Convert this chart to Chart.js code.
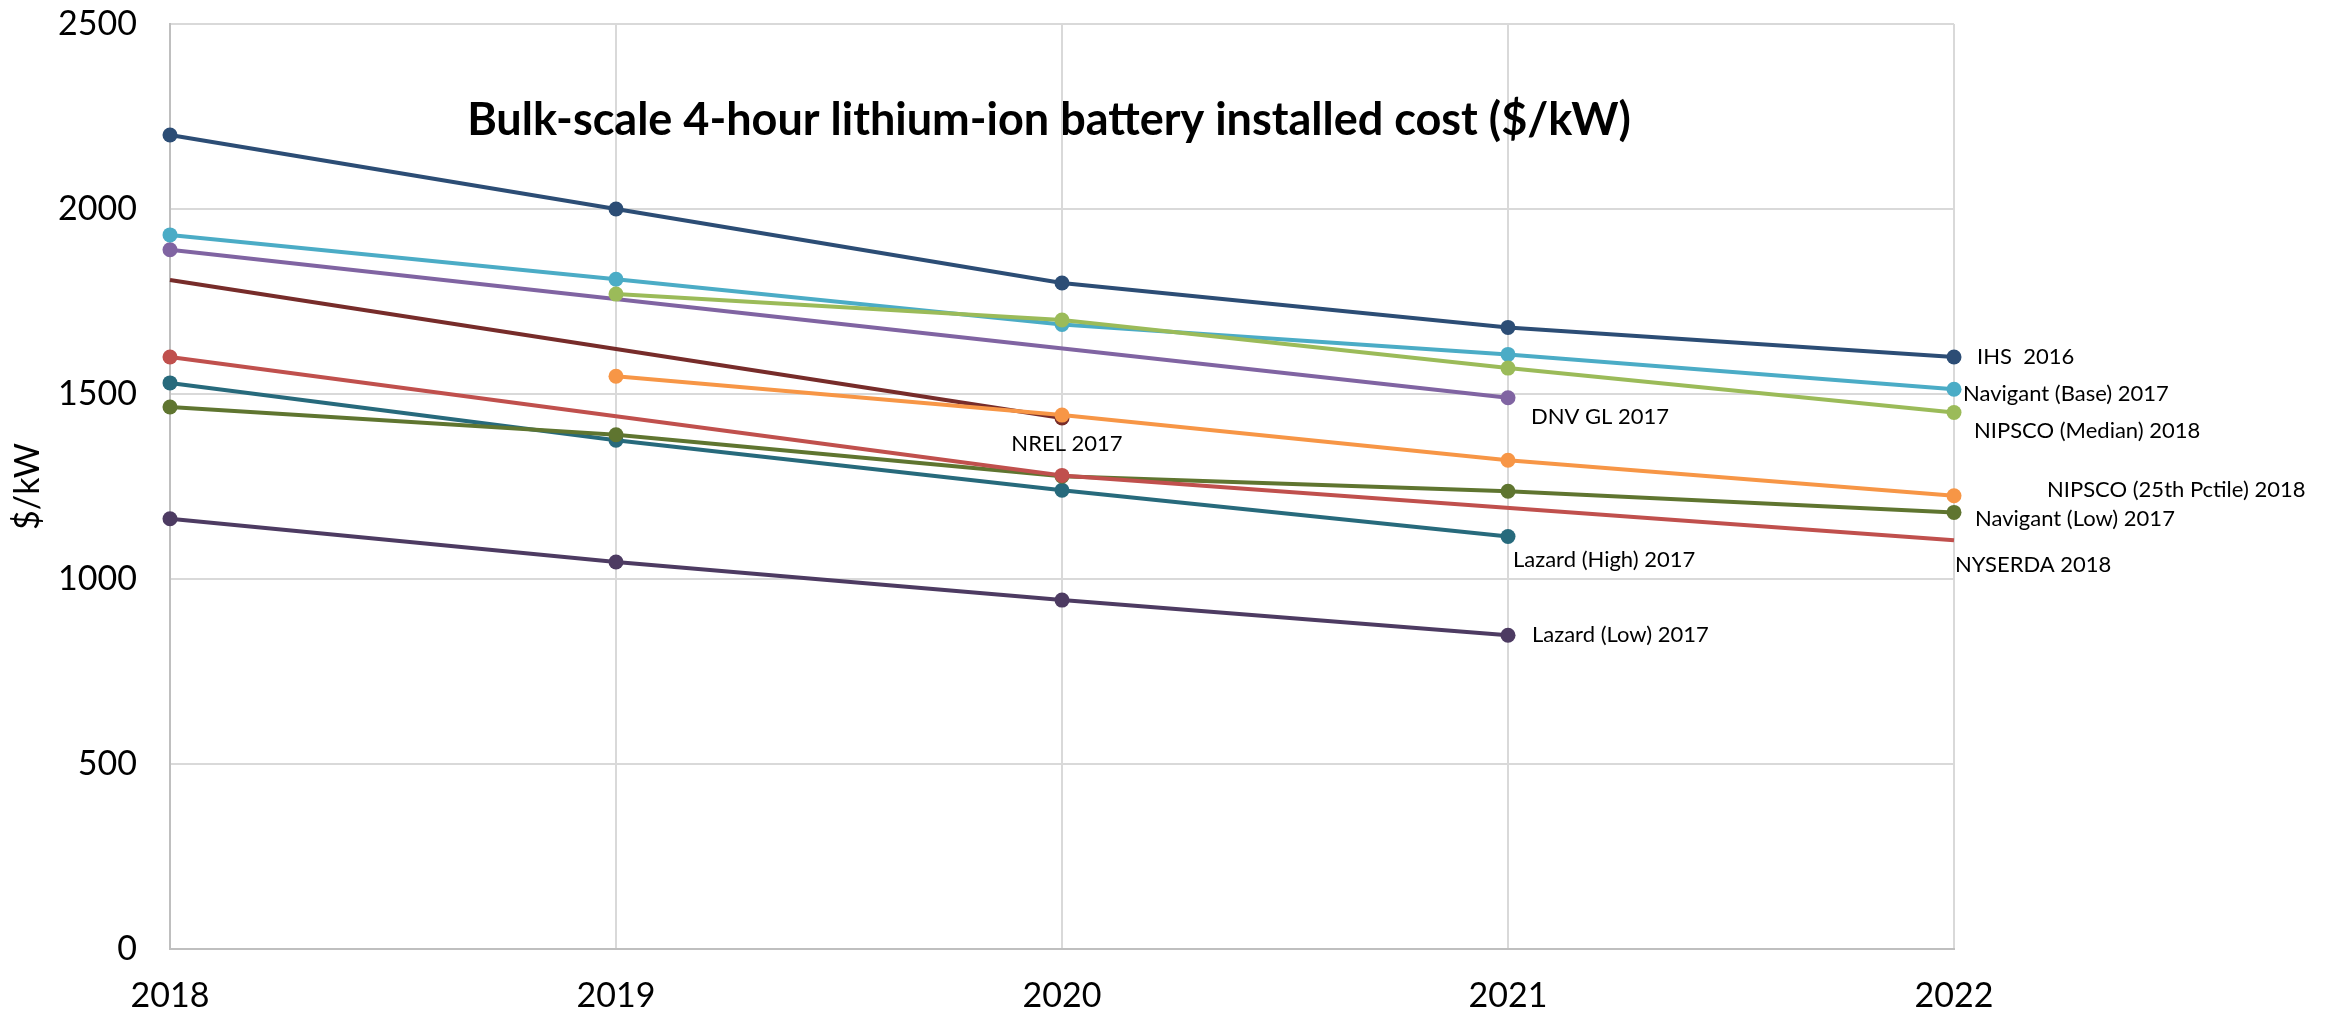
<!DOCTYPE html>
<html>
<head>
<meta charset="utf-8">
<title>Bulk-scale 4-hour lithium-ion battery installed cost</title>
<script src="https://cdn.jsdelivr.net/npm/chart.js@4.4.1/dist/chart.umd.min.js"></script>
<style>
  html, body { margin: 0; padding: 0; background: #fff; }
  #wrap { width: 2329px; height: 1014px; position: relative; }
</style>
</head>
<body>
<div id="wrap"><canvas id="chart"></canvas></div>
<script>
/* Bulk-scale 4-hour Li-ion battery installed cost, $/kW, 2018-2022 */

const YEARS = ["2018", "2019", "2020", "2021", "2022"];
const Y_TICKS = [0, 500, 1000, 1500, 2000, 2500];

// null = no point in that year (line spans across)
const IHS_2016        = [2200, 2000, 1800, 1680, 1600];
const NAV_BASE_2017   = [1930, 1810, 1688, 1607, 1513];
const NIPSCO_MED_2018 = [null, 1770, 1700, 1570, 1450];
const DNV_GL_2017     = [1890, null, null, 1490, null];
const NREL_2017       = [1808, null, 1435, null, null];
const NIPSCO_25_2018  = [null, 1548, 1443, 1321, 1225];
const NYSERDA_2018    = [1600, null, 1280, null, 1105];
const NAV_LOW_2017    = [1465, 1390, 1278, 1237, 1180];
const LAZARD_HI_2017  = [1530, 1375, 1240, 1115, null];
const LAZARD_LO_2017  = [1163, 1046, 943, 848, null];

const TITLE = "Bulk-scale 4-hour lithium-ion battery installed cost ($/kW)";
const FONT = "Lato, 'Open Sans', sans-serif";
const GRID = "#d9d9d9";
const AXIS = "#bfbfbf";

/* one entry per series; first in list is drawn on top.
   lx/ly = label offset from the labelled point, in px */
const SERIES = [
  { name: "NIPSCO (25th Pctile) 2018", data: NIPSCO_25_2018, color: "#F79646", at: 4, lx: 93, ly: -6 },
  { name: "NREL 2017",                 data: NREL_2017,      color: "#772C2A", at: 2, lx: 5, ly: 26, align: "center", marks: [0, 0, 1, 0, 0] },
  { name: "NYSERDA 2018",              data: NYSERDA_2018,   color: "#C0504D", at: 4, lx: 1, ly: 25, marks: [1, 0, 1, 0, 0] },
  { name: "Navigant (Low) 2017",       data: NAV_LOW_2017,   color: "#5F7530", at: 4, lx: 21, ly: 7 },
  { name: "NIPSCO (Median) 2018",      data: NIPSCO_MED_2018,color: "#9BBB59", at: 4, lx: 20, ly: 18 },
  { name: "Navigant (Base) 2017",      data: NAV_BASE_2017,  color: "#4BACC6", at: 4, lx: 9, ly: 5 },
  { name: "DNV GL 2017",               data: DNV_GL_2017,    color: "#8064A2", at: 3, lx: 23, ly: 19 },
  { name: "IHS  2016",                 data: IHS_2016,       color: "#2C4D75", at: 4, lx: 23, ly: 0 },
  { name: "Lazard (High) 2017",        data: LAZARD_HI_2017, color: "#276A7C", at: 3, lx: 5, ly: 23 },
  { name: "Lazard (Low) 2017",         data: LAZARD_LO_2017, color: "#4D3B62", at: 3, lx: 24, ly: 0 }
];

const MARK_R = 7.5;

const datasets = SERIES.map(s => ({
  label: s.name,
  data: s.data,
  borderColor: s.color,
  backgroundColor: s.color,
  pointBackgroundColor: s.color,
  pointBorderColor: s.color,
  borderWidth: 4,
  pointRadius: s.marks ? s.marks.map(m => m ? MARK_R : 0) : MARK_R,
  pointBorderWidth: 0,
  pointHoverRadius: MARK_R,
  tension: 0,
  spanGaps: true,
  clip: false
}));

/* end-of-line text labels, placed off the library's own point positions */
const endLabels = {
  id: "endLabels",
  afterDatasetsDraw(chart) {
    const ctx = chart.ctx;
    ctx.save();
    ctx.font = "22px " + FONT;
    ctx.fillStyle = "#000";
    ctx.textBaseline = "middle";
    SERIES.forEach((s, i) => {
      const pt = chart.getDatasetMeta(i).data[s.at];
      if (!pt) return;
      ctx.textAlign = s.align || "left";
      ctx.fillText(s.name, pt.x + s.lx, pt.y + s.ly);
    });
    ctx.restore();
  }
};

/* title sits inside the plot area, as in the original */
const innerTitle = {
  id: "innerTitle",
  afterDraw(chart) {
    const { ctx, chartArea: a } = chart;
    ctx.save();
    ctx.font = "bold 45px " + FONT;
    ctx.fillStyle = "#000";
    ctx.textAlign = "center";
    ctx.textBaseline = "middle";
    ctx.fillText(TITLE, a.left + (a.right - a.left) * 0.4927, a.top + (a.bottom - a.top) * 0.1046);
    ctx.restore();
  }
};

new Chart(document.getElementById("chart"), {
  type: "line",
  data: { labels: YEARS, datasets: datasets },
  options: {
    responsive: true,
    maintainAspectRatio: false,
    animation: false,
    layout: { padding: { top: 24, right: 375, bottom: 0, left: 0 } },
    plugins: {
      legend: { display: false },
      title: { display: false },
      tooltip: { enabled: false }
    },
    scales: {
      x: {
        offset: false,
        grid: { color: GRID, lineWidth: 2, drawTicks: false },
        border: { color: AXIS, width: 2 },
        ticks: { color: "#000", font: { family: FONT, size: 34 }, padding: 27, maxRotation: 0 },
        afterFit(scale) { scale.height = 65; }
      },
      y: {
        min: 0,
        max: 2500,
        afterBuildTicks(scale) { scale.ticks = Y_TICKS.map(v => ({ value: v })); },
        grid: { color: GRID, lineWidth: 2, drawTicks: false },
        border: { color: AXIS, width: 2 },
        ticks: {
          color: "#000",
          font: { family: FONT, size: 34 },
          padding: 33,
          callback: (v) => String(v)
        },
        title: { display: true, text: "$/kW", color: "#000", font: { family: FONT, size: 34 }, padding: { top: 8, bottom: 0 } },
        afterFit(scale) {
          scale.width = 170;
          // tick padding would otherwise push the plot top down
          scale.paddingTop = 0;
          scale.paddingBottom = 0;
        }
      }
    }
  },
  plugins: [endLabels, innerTitle]
});
</script>
</body>
</html>
